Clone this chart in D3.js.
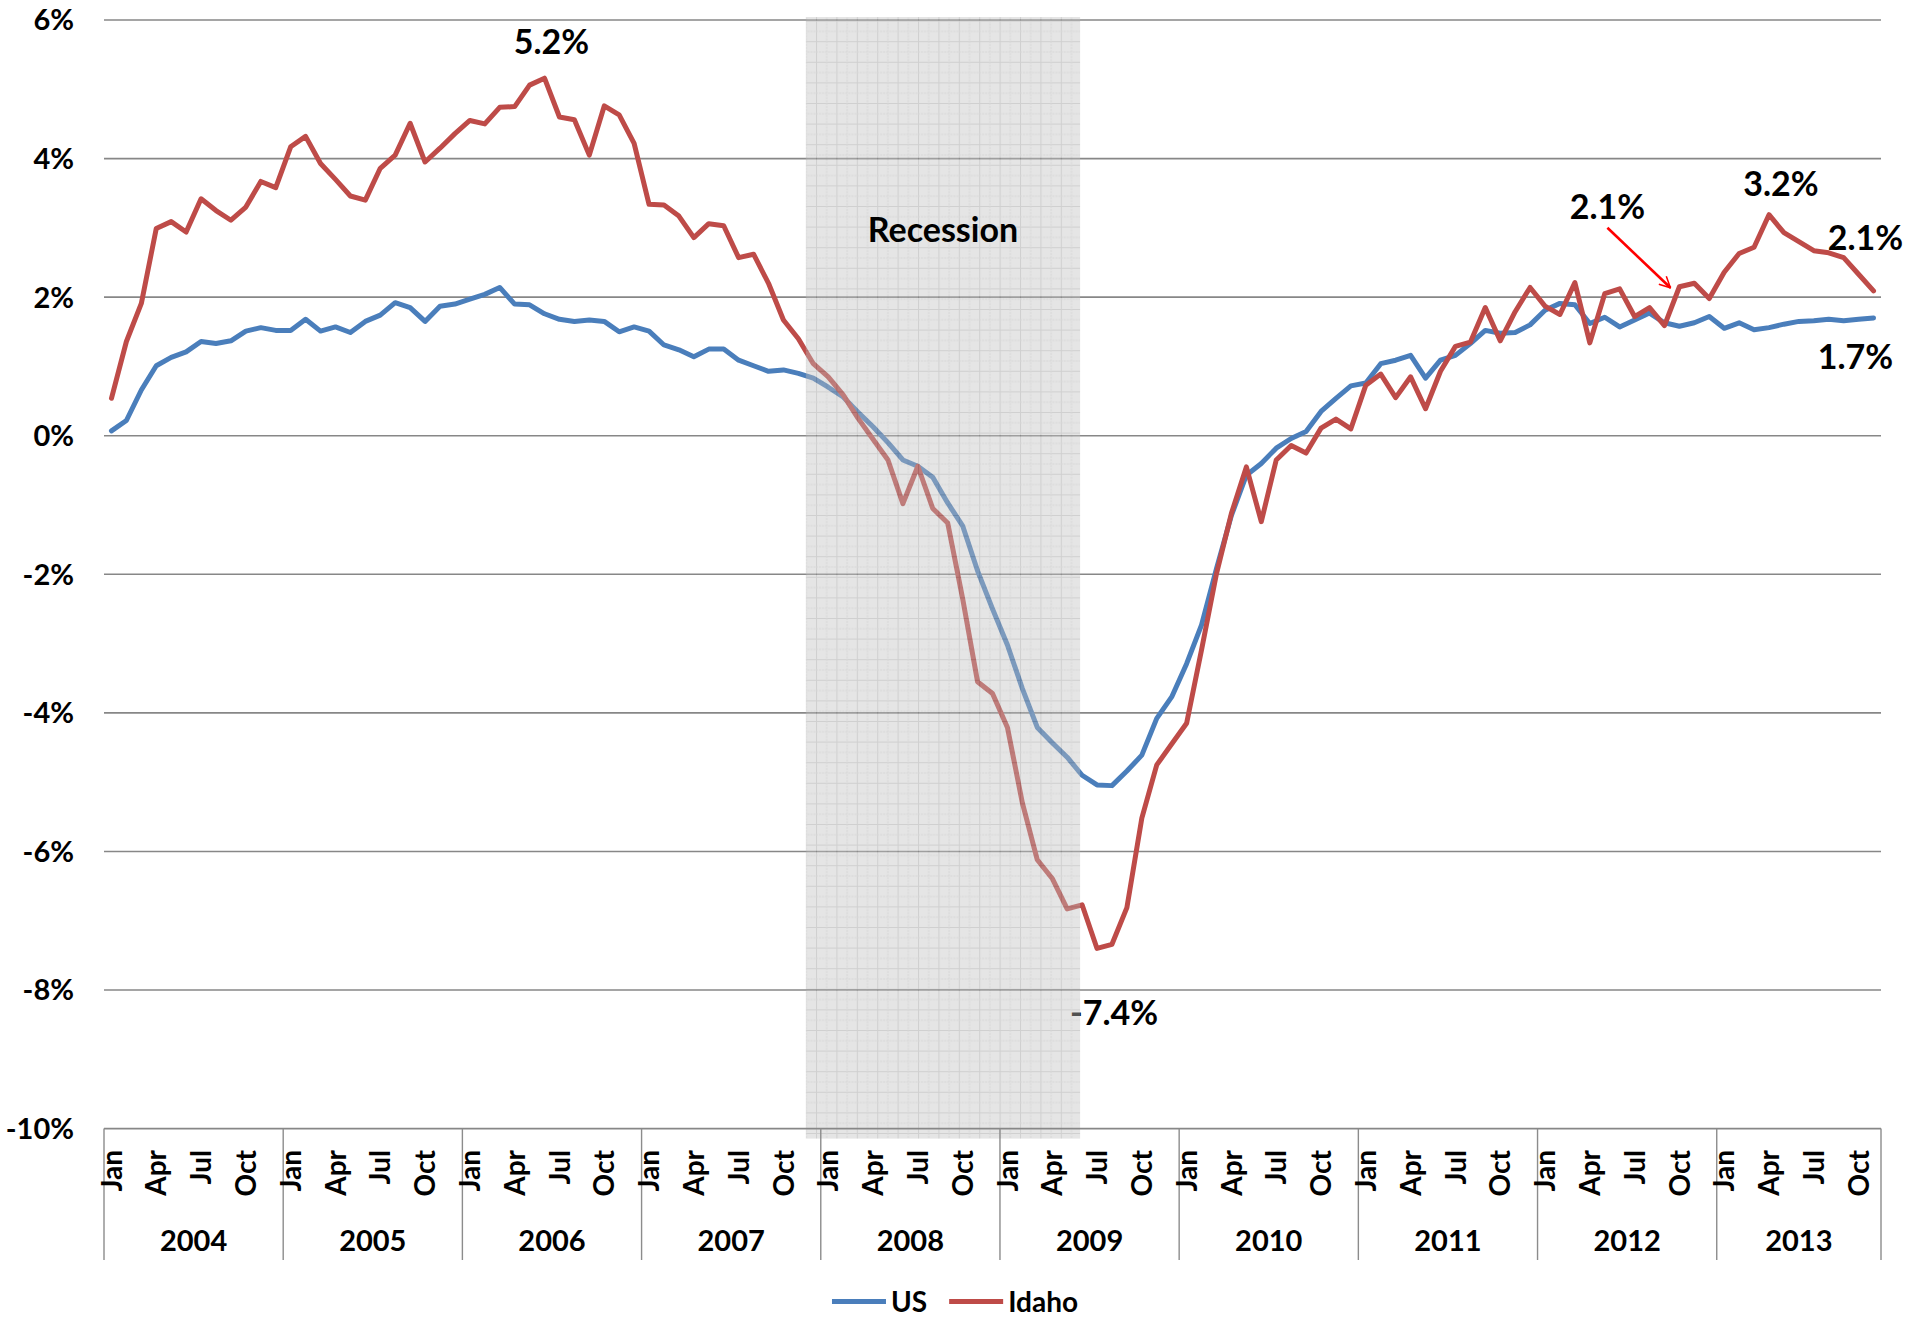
<!DOCTYPE html>
<html><head><meta charset="utf-8">
<script src="https://cdn.jsdelivr.net/npm/d3@7"></script>
<style>
html,body{margin:0;padding:0;background:#fff;}
svg{display:block;}
text{font-family:Lato,"Open Sans",sans-serif;font-weight:700;fill:#000;}
</style></head><body>
<svg id="chart" width="1912" height="1319"></svg>
<script>
// ---- data ----
const years = [2004, 2005, 2006, 2007, 2008, 2009, 2010, 2011, 2012, 2013];
const monthNames = ["Jan","Feb","Mar","Apr","May","Jun","Jul","Aug","Sep","Oct","Nov","Dec"];
const lastMonth = { year: 2013, month: 11 }; // series ends Nov 2013
const monthTickLabels = ["Jan", "Apr", "Jul", "Oct"];
const yTicks = [6, 4, 2, 0, -2, -4, -6, -8, -10];
const seriesNames = ["US", "Idaho"];
const seriesColors = ["#4A7EBB", "#BE4B48"];

const usValues = [
  0.07,0.22,0.66,1.01,1.13,1.21,1.36,1.33,1.37,1.51,1.56,1.52,
  1.52,1.68,1.51,1.57,1.49,1.65,1.74,1.92,1.85,1.65,1.87,1.90,
  1.97,2.04,2.14,1.90,1.89,1.76,1.68,1.65,1.67,1.65,1.50,1.57,
  1.51,1.31,1.24,1.14,1.25,1.25,1.09,1.01,0.93,0.95,0.90,0.83,
  0.70,0.56,0.34,0.13,-0.10,-0.35,-0.44,-0.60,-0.97,-1.30,-1.95,-2.50,
  -3.02,-3.65,-4.21,-4.43,-4.64,-4.90,-5.04,-5.05,-4.84,-4.61,-4.08,-3.77,
  -3.29,-2.73,-1.92,-1.15,-0.57,-0.40,-0.18,-0.04,0.06,0.35,0.54,0.72,
  0.76,1.04,1.09,1.16,0.83,1.09,1.16,1.33,1.52,1.48,1.49,1.60,
  1.81,1.91,1.89,1.62,1.71,1.57,1.67,1.77,1.63,1.58,1.63,1.72,
  1.55,1.63,1.53,1.56,1.61,1.65,1.66,1.68,1.66,1.68,1.70
];
const idahoValues = [
  0.54,1.36,1.91,2.99,3.09,2.94,3.42,3.25,3.11,3.30,3.67,3.58,
  4.17,4.32,3.93,3.70,3.46,3.40,3.86,4.05,4.51,3.95,4.15,4.36,
  4.55,4.50,4.74,4.75,5.06,5.16,4.60,4.56,4.05,4.76,4.63,4.22,
  3.34,3.33,3.17,2.86,3.06,3.03,2.57,2.62,2.20,1.67,1.40,1.04,
  0.85,0.59,0.25,-0.05,-0.35,-0.98,-0.44,-1.05,-1.26,-2.35,-3.55,-3.72,
  -4.21,-5.30,-6.12,-6.39,-6.83,-6.77,-7.40,-7.34,-6.81,-5.52,-4.75,-4.45,
  -4.15,-3.09,-1.99,-1.12,-0.45,-1.24,-0.35,-0.14,-0.25,0.11,0.24,0.10,
  0.73,0.89,0.55,0.85,0.39,0.93,1.29,1.35,1.85,1.37,1.79,2.14,
  1.87,1.75,2.21,1.34,2.05,2.12,1.72,1.85,1.59,2.15,2.20,1.98,
  2.36,2.63,2.72,3.19,2.93,2.80,2.67,2.64,2.57,2.33,2.09
];
const recessionMonths = ["Dec 2007", "Jun 2009"];
const recessionLabel = "Recession";
// annotation: series index, month key, label text, offset
const annotations = [
  { series: 1, month: "Jun 2006", text: "5.2%", dx: 7, dy: -24 },
  { series: 1, month: "Jul 2009", text: "-7.4%", dx: 17, dy: 77 },
  { series: 1, month: "Oct 2012", text: "2.1%", dx: -72, dy: -68, arrow: true },
  { series: 1, month: "Apr 2013", text: "3.2%", dx: 12, dy: -19 },
  { series: 1, month: "Nov 2013", text: "2.1%", dx: -8, dy: -41 },
  { series: 0, month: "Nov 2013", text: "1.7%", dx: -18, dy: 51 }
];

// ---- categories ----
const cats = [];
years.forEach(yr => monthNames.forEach((m, mi) => {
  if (yr < lastMonth.year || mi < lastMonth.month) cats.push({ year: yr, month: m, mi, key: m + " " + yr });
}));
const catIndex = new Map(cats.map((c, i) => [c.key, i]));
const series = [usValues, idahoValues];

// ---- layout ----
const svg = d3.select("#chart");
const L = 104, R = 1881, T = 20, B = 1128.6;
const x = d3.scaleBand().domain(d3.range(cats.length)).range([L, R]).padding(0);
const cx = i => x(i) + x.bandwidth() / 2;
const y = d3.scaleLinear().domain([-10, 6]).range([B, T]);

const defs = svg.append("defs");
const pat = defs.append("pattern").attr("id", "recgrid").attr("patternUnits", "userSpaceOnUse")
  .attr("width", 20.4).attr("height", 20.6);
pat.append("rect").attr("width", 20.4).attr("height", 20.6).attr("fill", "#c0c0c0");
pat.append("path").attr("d", "M0,0.5H20.4M0.5,0V20.6").attr("stroke", "#8e8e8e").attr("stroke-width", 1);
pat.append("path").attr("d", "M0,10.8H20.4M10.7,0V20.6").attr("stroke", "#a0a0a0").attr("stroke-width", 1).attr("stroke-dasharray", "2,1");
const mk = defs.append("marker").attr("id", "arrowhead").attr("viewBox", "0 0 12 12")
  .attr("refX", 11).attr("refY", 6).attr("markerWidth", 13).attr("markerHeight", 13)
  .attr("orient", "auto").attr("markerUnits", "userSpaceOnUse");
mk.append("path").attr("d", "M1,1 L11,6 L1,11").attr("fill", "none").attr("stroke", "#FF0000").attr("stroke-width", 1.4);

// gridlines
svg.append("g").selectAll("line").data(yTicks.filter(t => t !== -10)).join("line")
  .attr("x1", L).attr("x2", R).attr("y1", d => y(d)).attr("y2", d => y(d))
  .attr("stroke", "#878787").attr("stroke-width", 1.6);

// y labels
svg.append("g").selectAll("text").data(yTicks).join("text")
  .attr("x", 74).attr("y", d => y(d)).attr("dy", "0.36em").attr("text-anchor", "end")
  .attr("font-size", 29).text(d => d + "%");

// lines
const line = d3.line().x((d, i) => cx(i)).y(d => y(d));
series.forEach((s, k) => {
  svg.append("path").datum(s).attr("d", line).attr("fill", "none")
    .attr("stroke", seriesColors[k]).attr("stroke-width", 5)
    .attr("stroke-linejoin", "round").attr("stroke-linecap", "round");
});

// annotations (drawn before band so band overlays them where they overlap)
const annG = svg.append("g");
annotations.forEach(a => {
  const i = catIndex.get(a.month);
  const px = cx(i), py = y(series[a.series][i]);
  const lx = px + a.dx, ly = py + a.dy;
  annG.append("text").attr("x", lx).attr("y", ly).attr("text-anchor", "middle")
    .attr("font-size", 34).text(a.text);
  if (a.arrow) {
    annG.append("line").attr("x1", lx).attr("y1", ly + 9).attr("x2", px - 9).attr("y2", py + 1)
      .attr("stroke", "#FF0000").attr("stroke-width", 2.6).attr("marker-end", "url(#arrowhead)");
  }
});

// recession band
const r0 = catIndex.get(recessionMonths[0]), r1 = catIndex.get(recessionMonths[1]);
const bx0 = x(r0), bx1 = cx(r1) - 2;
svg.append("rect").attr("x", bx0).attr("y", y(6) - 3).attr("width", bx1 - bx0)
  .attr("height", y(-10) - y(6) + 13).attr("fill", "url(#recgrid)").attr("opacity", 0.42);
svg.append("text").attr("x", (bx0 + bx1) / 2).attr("y", y(2.8)).attr("text-anchor", "middle")
  .attr("font-size", 34).text(recessionLabel);

// category axis
const axG = svg.append("g");
axG.append("line").attr("x1", L).attr("x2", R).attr("y1", B).attr("y2", B)
  .attr("stroke", "#878787").attr("stroke-width", 1.6);
const yearStarts = years.map(yr => cats.findIndex(c => c.year === yr));
const dividers = yearStarts.map(i => x(i)).concat([R]);
axG.selectAll("line.div").data(dividers).join("line").attr("class", "div")
  .attr("x1", d => d).attr("x2", d => d).attr("y1", B).attr("y2", 1260)
  .attr("stroke", "#8c8c8c").attr("stroke-width", 1.4);
const monthTicks = cats.map((c, i) => ({ c, i })).filter(o => monthTickLabels.includes(o.c.month));
axG.selectAll("text.m").data(monthTicks).join("text").attr("class", "m")
  .attr("transform", o => `translate(${cx(o.i)},1150) rotate(-90)`)
  .attr("text-anchor", "end").attr("dy", "0.36em").attr("font-size", 28).text(o => o.c.month);
axG.selectAll("text.yr").data(years).join("text").attr("class", "yr")
  .attr("x", (yr, k) => {
    const s = yearStarts[k];
    const e = k + 1 < yearStarts.length ? yearStarts[k + 1] : cats.length;
    return (x(s) + (e < cats.length ? x(e) : R)) / 2;
  })
  .attr("y", 1251).attr("text-anchor", "middle").attr("font-size", 29).text(d => d);

// legend
const lg = svg.append("g");
let lxPos = 0;
seriesNames.forEach((n, k) => {
  const g = lg.append("g");
  g.append("line").attr("x1", 0).attr("x2", 54).attr("y1", 0).attr("y2", 0)
    .attr("stroke", seriesColors[k]).attr("stroke-width", 5);
  const t = g.append("text").attr("x", 59).attr("y", 0).attr("dy", "0.36em").attr("font-size", 28).text(n);
  const w = 59 + t.node().getComputedTextLength();
  g.attr("transform", `translate(${lxPos},0)`);
  lxPos += w + 22;
});
const totalW = lxPos - 22;
lg.attr("transform", `translate(${955 - totalW / 2},1301.5)`);
</script>
</body></html>
